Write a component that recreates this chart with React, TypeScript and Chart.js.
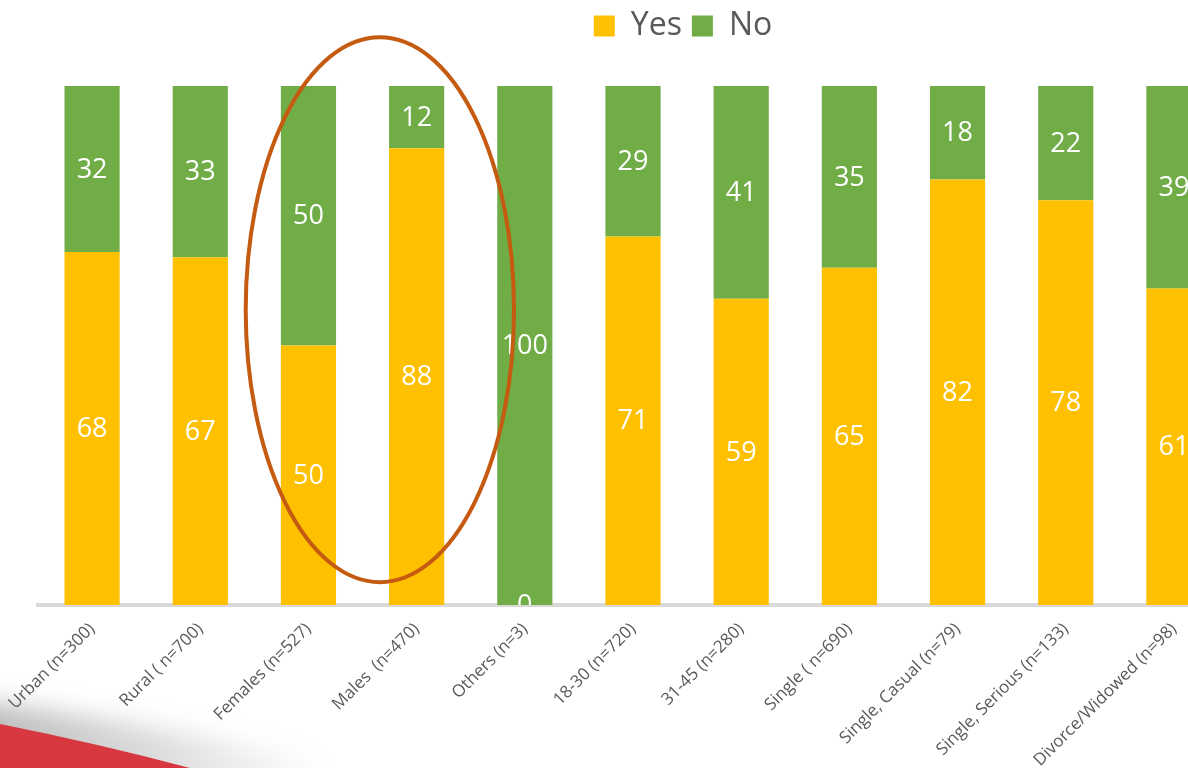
import { useEffect, useRef } from 'react';
import { Chart, registerables } from 'chart.js';

Chart.register(...registerables);

const categories = [
  'Urban (n=300)',
  'Rural ( n=700)',
  'Females (n=527)',
  'Males  (n=470)',
  'Others (n=3)',
  '18-30 (n=720)',
  '31-45 (n=280)',
  'Single ( n=690)',
  'Single, Casual (n=79)',
  'Single, Serious (n=133)',
  'Divorce/Widowed (n=98)',
];
const seriesNames = ['Yes', 'No'];
const yesValues = [68, 67, 50, 88, 0, 71, 59, 65, 82, 78, 61];
const noValues = [32, 33, 50, 12, 100, 29, 41, 35, 18, 22, 39];

const YES_COLOR = '#FFC000';
const NO_COLOR = '#70AD47';
const TEXT_GRAY = '#595959';
const FONT = '"Open Sans", "DejaVu Sans", sans-serif';

const CANVAS_W = 1366;
const CANVAS_H = 768;

export default function App() {
  const ref = useRef<HTMLCanvasElement | null>(null);

  useEffect(() => {
    const canvas = ref.current;
    if (!canvas) return;

    const swooshPlugin = {
      id: 'swoosh',
      beforeDraw(chart: any) {
        const ctx = chart.ctx as CanvasRenderingContext2D;
        ctx.save();
        ctx.filter = 'blur(12px)';
        const g = ctx.createLinearGradient(0, 768, 300, 680);
        g.addColorStop(0, 'rgba(120,120,120,0.5)');
        g.addColorStop(1, 'rgba(120,120,120,0)');
        ctx.fillStyle = g;
        ctx.beginPath();
        ctx.moveTo(-30, 700);
        ctx.quadraticCurveTo(240, 732, 460, 800);
        ctx.lineTo(-30, 800);
        ctx.closePath();
        ctx.fill();
        ctx.filter = 'none';
        ctx.fillStyle = '#D7373F';
        ctx.beginPath();
        ctx.moveTo(0, 724);
        ctx.quadraticCurveTo(100, 744, 190, 768);
        ctx.lineTo(0, 768);
        ctx.closePath();
        ctx.fill();
        ctx.restore();
      },
    };

    const legendHeightPlugin = {
      id: 'legendHeight',
      beforeLayout(chart: any) {
        const legend = chart.legend;
        if (legend && !legend.__patched) {
          const origFit = legend.fit.bind(legend);
          legend.fit = function () {
            origFit();
            this.height = 86;
          };
          legend.__patched = true;
        }
      },
    };

    const valueLabelsPlugin = {
      id: 'valueLabels',
      afterDatasetsDraw(chart: any) {
        const ctx = chart.ctx as CanvasRenderingContext2D;
        const area = chart.chartArea;
        ctx.save();
        ctx.beginPath();
        ctx.rect(area.left, area.top, area.right - area.left, area.bottom - area.top);
        ctx.clip();
        ctx.fillStyle = '#FFFFFF';
        ctx.font = `27px ${FONT}`;
        ctx.textAlign = 'center';
        ctx.textBaseline = 'middle';
        chart.data.datasets.forEach((ds: any, di: number) => {
          const meta = chart.getDatasetMeta(di);
          meta.data.forEach((el: any, i: number) => {
            const v = ds.data[i];
            const y = (el.y + el.base) / 2;
            ctx.fillText(String(v), el.x, y + 1);
          });
        });
        ctx.restore();
      },
    };

    const ellipsePlugin = {
      id: 'ellipse',
      afterDraw(chart: any) {
        const ctx = chart.ctx as CanvasRenderingContext2D;
        const xs = chart.scales.x;
        const ys = chart.scales.y;
        const p2 = xs.getPixelForValue(2);
        const p3 = xs.getPixelForValue(3);
        const step = p3 - p2;
        const cx = p2 + step * 0.66;
        const top = ys.getPixelForValue(109.4);
        const bottom = ys.getPixelForValue(4.4);
        const cy = (top + bottom) / 2;
        const rx = step * 1.24;
        const ry = (bottom - top) / 2;
        ctx.save();
        ctx.strokeStyle = '#C55A11';
        ctx.lineWidth = 4;
        ctx.beginPath();
        ctx.ellipse(cx, cy, rx, ry, 0, 0, Math.PI * 2);
        ctx.stroke();
        ctx.restore();
      },
    };

    const chart = new Chart(canvas, {
      type: 'bar',
      data: {
        labels: categories,
        datasets: [
          {
            label: seriesNames[0],
            data: yesValues,
            backgroundColor: YES_COLOR,
            borderWidth: 0,
            categoryPercentage: 1,
            barPercentage: 0.51,
            yAxisID: 'y',
          },
          {
            label: seriesNames[1],
            data: noValues,
            backgroundColor: NO_COLOR,
            borderWidth: 0,
            categoryPercentage: 1,
            barPercentage: 0.51,
            yAxisID: 'y',
          },
        ],
      },
      options: {
        responsive: false,
        animation: false,
        devicePixelRatio: 1,
        layout: { padding: 0 },
        plugins: {
          legend: {
            display: true,
            position: 'top',
            align: 'center',
            labels: {
              boxWidth: 21,
              boxHeight: 21,
              padding: 10,
              color: TEXT_GRAY,
              font: { family: FONT, size: 32 },
            },
          },
          tooltip: { enabled: false },
        },
        scales: {
          x: {
            stacked: true,
            grid: { display: false },
            border: { display: true, color: '#D9D9D9', width: 4 },
            ticks: {
              color: TEXT_GRAY,
              font: { family: FONT, size: 17 },
              minRotation: 45,
              maxRotation: 45,
              autoSkip: false,
              padding: 6,
            },
            afterFit(scale: any) {
              scale.height = 163;
              scale.paddingLeft = 0;
              scale.paddingRight = 0;
            },
          },
          y: {
            stacked: true,
            min: 0,
            max: 100,
            position: 'left',
            grid: { display: false },
            border: { display: false },
            ticks: { display: false },
            afterFit(scale: any) {
              scale.width = 38;
            },
          },
          yPad: {
            position: 'right',
            grid: { display: false },
            border: { display: false },
            ticks: { display: false },
            afterFit(scale: any) {
              scale.width = 138;
            },
          },
        },
      },
      plugins: [swooshPlugin, legendHeightPlugin, valueLabelsPlugin, ellipsePlugin],
    } as any);

    return () => {
      chart.destroy();
    };
  }, []);

  return (
    <div
      style={{
        position: 'fixed',
        left: 0,
        top: 0,
        width: 1188,
        height: 768,
        overflow: 'hidden',
        background: '#FFFFFF',
      }}
    >
      <canvas
        ref={ref}
        width={CANVAS_W}
        height={CANVAS_H}
        style={{ position: 'absolute', left: 0, top: 0, width: CANVAS_W, height: CANVAS_H }}
      />
    </div>
  );
}
